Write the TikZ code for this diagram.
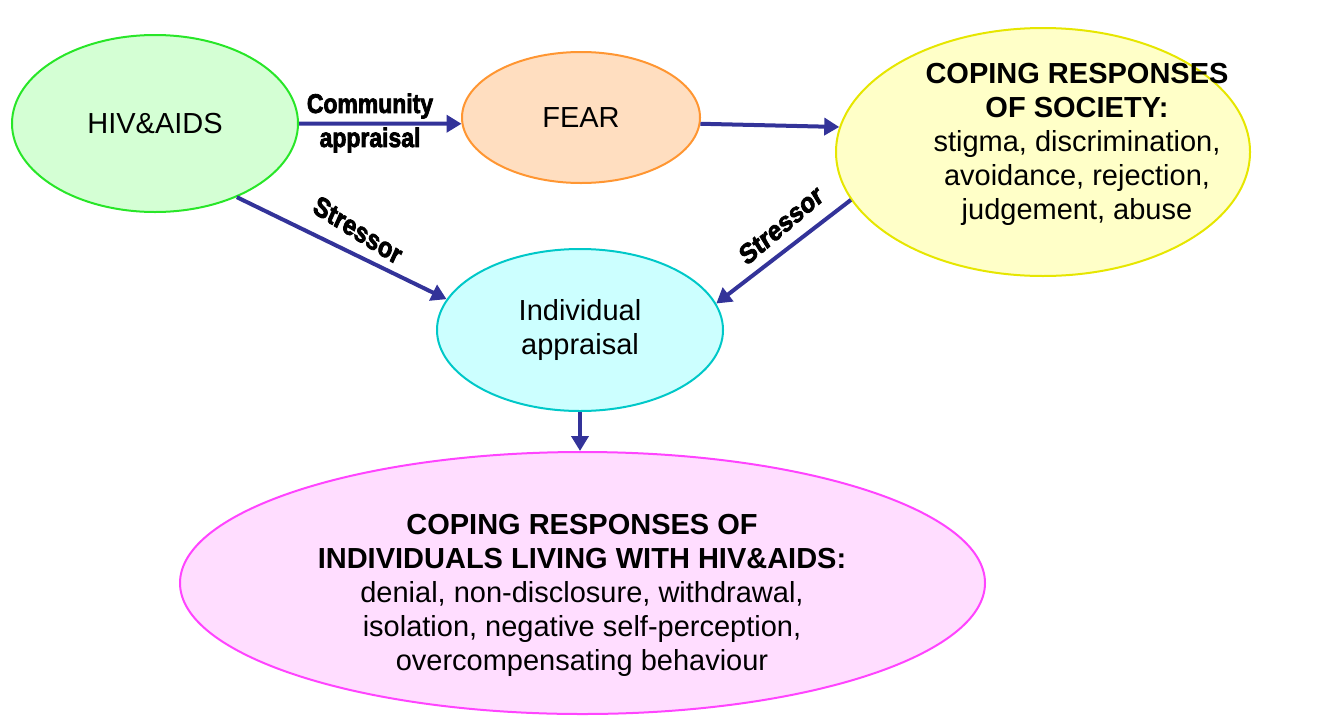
\documentclass[tikz,border=0pt]{standalone}
\usepackage{fontspec}
\setmainfont{Liberation Sans}
\newfontfamily\heavyfont{Liberation Sans Bold}[FakeBold=3]
\usetikzlibrary{shapes.geometric,arrows.meta}
\definecolor{navy}{RGB}{51,51,153}
\definecolor{hivf}{RGB}{212,255,212}
\definecolor{hivb}{RGB}{40,230,40}
\definecolor{fearf}{RGB}{255,222,192}
\definecolor{fearb}{RGB}{255,150,50}
\definecolor{socf}{RGB}{255,255,200}
\definecolor{socb}{RGB}{230,230,0}
\definecolor{indf}{RGB}{204,255,255}
\definecolor{indb}{RGB}{0,200,200}
\definecolor{botf}{RGB}{255,221,255}
\definecolor{botb}{RGB}{255,68,255}
\begin{document}
\begin{tikzpicture}[x=1pt,y=-1pt,
  ell/.style={ellipse, line width=2pt, inner sep=0pt},
  conn/.style={draw=navy, line width=4pt, -{Triangle[length=15pt,width=17pt]}},
  body/.style={font=\fontsize{29}{34}\selectfont, align=center, inner sep=0pt},
  tag/.style={font=\heavyfont\fontsize{27}{34}\selectfont, align=center, inner sep=0pt, xscale=0.85}
]
\useasboundingbox (0,0) rectangle (1324,715);
\node[ell, draw=hivb, fill=hivf, minimum width=286pt, minimum height=177pt, body] (hiv) at (155,123.5) {HIV\&AIDS};
\node[ell, draw=fearb, fill=fearf, minimum width=238pt, minimum height=131pt, body] (fear) at (581,117.5) {FEAR};
\node[ell, draw=socb, fill=socf, minimum width=414pt, minimum height=248pt] (soc) at (1043,152) {};
\node[body] (soctext) at (1077,144) {\textbf{COPING RESPONSES}\\\textbf{OF SOCIETY:}\\stigma, discrimination,\\avoidance, rejection,\\judgement, abuse};
\node[ell, draw=indb, fill=indf, minimum width=286pt, minimum height=162pt, body] (ind) at (580,330) {Individual\\appraisal};
\node[ell, draw=botb, fill=botf, minimum width=805pt, minimum height=262pt] (bot) at (582.5,583) {};
\node[body] (bottext) at (582,595) {\textbf{COPING RESPONSES OF}\\\textbf{INDIVIDUALS LIVING WITH HIV\&AIDS:}\\denial, non-disclosure, withdrawal,\\isolation, negative self-perception,\\overcompensating behaviour};
\draw[conn] (hiv.0) -- (fear.183);
\draw[conn] (fear.-3) -- (soc.173.7);
\draw[conn] (hiv.-42.4) -- (ind.167.4);
\draw[conn] (soc.194.5) -- (ind.11.6);
\draw[conn] (ind.south) -- (bot.north -| ind.south);
\node[tag] (comm) at (370,123) {Community\\appraisal};
\node[tag, rotate=-28, font=\heavyfont\fontsize{28}{34}\selectfont] (str1) at (358,230) {Stressor};
\node[tag, rotate=36, font=\heavyfont\fontsize{28}{34}\selectfont] (str2) at (781,225) {Stressor};
\end{tikzpicture}
\end{document}
